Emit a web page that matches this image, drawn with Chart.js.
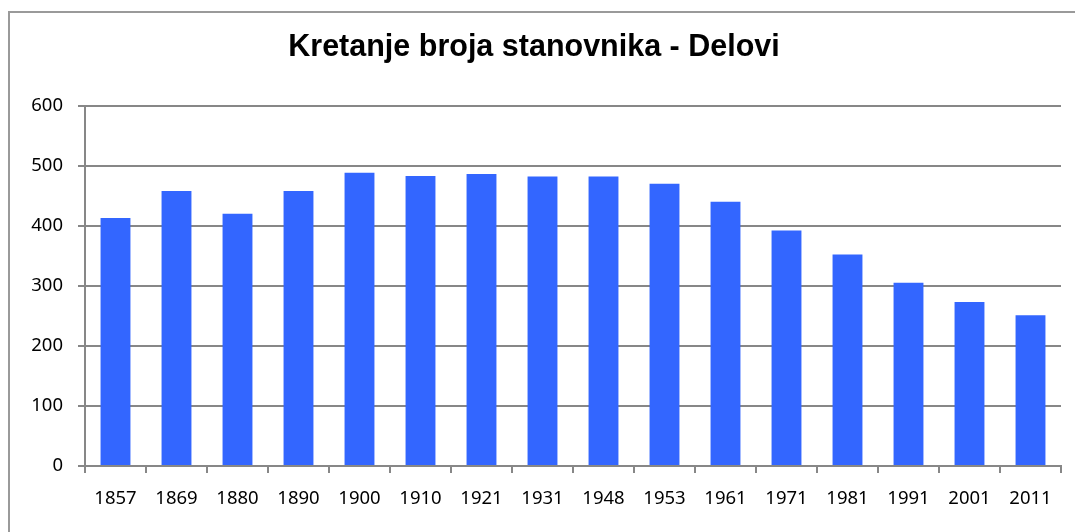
<!DOCTYPE html>
<html>
<head>
<meta charset="utf-8">
<script src="https://cdn.jsdelivr.net/npm/chart.js@4"></script>
<style>
html,body{margin:0;padding:0;background:#fff;}
#wrap{position:relative;width:1075px;height:532px;}
</style>
</head>
<body>
<div id="wrap"><canvas id="c" width="1075" height="532"></canvas></div>
<script>
const years = ['1857','1869','1880','1890','1900','1910','1921','1931','1948','1953','1961','1971','1981','1991','2001','2011'];
const population = [413,458,420,458,488,483,486,482,482,470,440,392,352,305,273,251];
const yTicks = [0,100,200,300,400,500,600];
const titleText = 'Kretanje broja stanovnika - Delovi';

const framePlugin = {
  id: 'frame',
  beforeDraw(chart) {
    const ctx = chart.ctx;
    ctx.save();
    ctx.fillStyle = '#fff';
    ctx.fillRect(0, 0, chart.width, chart.height);
    ctx.strokeStyle = '#9a9a9a';
    ctx.lineWidth = 2;
    ctx.beginPath();
    ctx.moveTo(9, chart.height);
    ctx.lineTo(9, 12);
    ctx.lineTo(chart.width, 12);
    ctx.stroke();
    ctx.restore();
  }
};

const tickFont = { family: 'Noto Sans', size: 18.5 };

new Chart(document.getElementById('c'), {
  type: 'bar',
  data: {
    labels: years,
    datasets: [{
      data: population,
      backgroundColor: '#3366ff',
      borderWidth: 0,
      categoryPercentage: 1,
      barPercentage: 0.49
    }]
  },
  plugins: [framePlugin],
  options: {
    responsive: false,
    animation: false,
    layout: { padding: { left: 7, right: 14, top: 0, bottom: 0 } },
    plugins: {
      legend: { display: false },
      tooltip: { enabled: false },
      title: {
        display: true,
        text: titleText,
        color: '#000',
        font: { family: 'Liberation Sans', size: 30.5, weight: 'bold' },
        padding: { top: 29, bottom: 40 }
      }
    },
    scales: {
      x: {
        grid: { offset: true, drawOnChartArea: false, drawTicks: true, tickLength: 7, color: '#878787', lineWidth: 2 },
        border: { display: true, color: '#878787', width: 2 },
        ticks: { color: '#000', font: tickFont, padding: 15, maxRotation: 0 },
        afterFit(scale) { scale.height = 66; }
      },
      y: {
        min: 0,
        max: 600,
        afterBuildTicks(scale) { scale.ticks = yTicks.map(v => ({ value: v })); },
        grid: { color: '#878787', lineWidth: 2, tickLength: 7, drawTicks: true },
        border: { display: true, color: '#878787', width: 2 },
        ticks: { color: '#000', font: tickFont, padding: 15 },
        afterFit(scale) { scale.width = 78; }
      }
    }
  }
});
</script>
</body>
</html>
